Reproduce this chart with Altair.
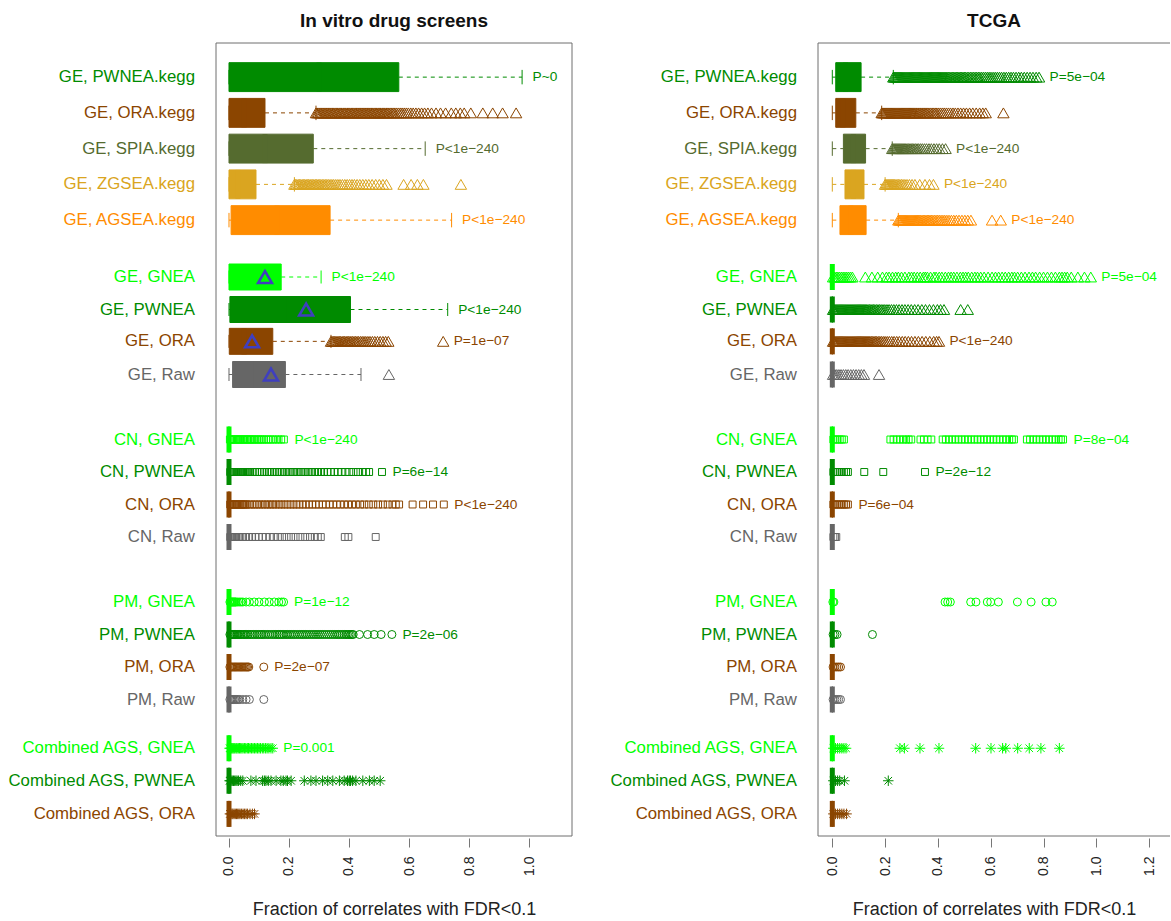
import altair as alt
import pandas as pd

# ---- rows (top to bottom) ----
ROWS = ["GE, PWNEA.kegg", "GE, ORA.kegg", "GE, SPIA.kegg", "GE, ZGSEA.kegg", "GE, AGSEA.kegg",
        "GE, GNEA", "GE, PWNEA", "GE, ORA", "GE, Raw",
        "CN, GNEA", "CN, PWNEA", "CN, ORA", "CN, Raw",
        "PM, GNEA", "PM, PWNEA", "PM, ORA", "PM, Raw",
        "Combined AGS, GNEA", "Combined AGS, PWNEA", "Combined AGS, ORA"]

# vertical slot of each row and half height of its box (in slot units)
ROW_POS = [1.05, 2.15, 3.25, 4.35, 5.45,
           7.2, 8.2, 9.18, 10.2,
           12.2, 13.2, 14.2, 15.2,
           17.2, 18.2, 19.2, 20.2,
           21.7, 22.7, 23.72]
BOX_HALF = [0.445] * 5 + [0.4] * 15
Y_DOMAIN = [0, 24.4]

METHOD_COLORS = {"PWNEA": "#008B00", "ORA": "#8B4500", "SPIA": "#556B2F",
                 "ZGSEA": "#DAA520", "AGSEA": "#FF8C00", "GNEA": "#00FF00",
                 "Raw": "#666666"}
ASTERISK = "M-1,0L1,0M0,-1L0,1M-0.72,-0.72L0.72,0.72M-0.72,0.72L0.72,-0.72"
TYPE_SHAPES = {"GE": ("triangle-up", 130), "CN": ("square", 48),
               "PM": ("circle", 64), "Combined AGS": (ASTERISK, 110)}

# ---- In vitro drug screens: box statistics ----
VITRO_LO = [0.0] * 20
VITRO_Q1 = [0.0, 0.0, 0.0, 0.0, 0.007, 0.0, 0.003, 0.001, 0.012] + [0.0] * 11
VITRO_MED = [0.30, 0.05, 0.12, 0.03, 0.16, 0.08, 0.20, 0.05, 0.09] + [0.0] * 11
VITRO_Q3 = [0.566, 0.120, 0.281, 0.090, 0.337, 0.174, 0.405, 0.146, 0.188] + [0.0] * 11
VITRO_HI = [0.977, 0.290, 0.654, 0.218, 0.742, 0.307, 0.729, 0.340, 0.440] + [0.0] * 11
VITRO_MEAN = {"GE, GNEA": 0.12, "GE, PWNEA": 0.257, "GE, ORA": 0.077, "GE, Raw": 0.14}
VITRO_P = ["P~0", "", "P<1e\u2212240", "", "P<1e\u2212240",
           "P<1e\u2212240", "P<1e\u2212240", "P=1e\u221207", "",
           "P<1e\u2212240", "P=6e\u221214", "P<1e\u2212240", "",
           "P=1e\u221212", "P=2e\u221206", "P=2e\u221207", "",
           "P=0.001", "", ""]
VITRO_OUT = {
    "GE, ORA.kegg": [0.290, 0.294, 0.298, 0.303, 0.307, 0.311, 0.316, 0.320, 0.324, 0.329, 0.333,
                     0.337, 0.342, 0.346, 0.350, 0.355, 0.359, 0.363, 0.368, 0.372, 0.376, 0.381,
                     0.385, 0.389, 0.394, 0.398, 0.402, 0.407, 0.411, 0.415, 0.420, 0.424, 0.428,
                     0.433, 0.437, 0.441, 0.446, 0.450, 0.454, 0.459, 0.463, 0.467, 0.472, 0.476,
                     0.480, 0.485, 0.489, 0.493, 0.498, 0.502, 0.506, 0.511, 0.515, 0.519, 0.524,
                     0.528, 0.533, 0.538, 0.543, 0.548, 0.553, 0.559, 0.565, 0.571, 0.577, 0.584,
                     0.591, 0.598, 0.606, 0.614, 0.623, 0.632, 0.642, 0.652, 0.663, 0.675, 0.690,
                     0.705, 0.722, 0.741, 0.756, 0.771, 0.784, 0.806, 0.846, 0.879, 0.912, 0.957],
    "GE, ZGSEA.kegg": [0.218, 0.222, 0.226, 0.231, 0.235, 0.239, 0.244, 0.248, 0.252, 0.257, 0.261,
                       0.265, 0.270, 0.274, 0.279, 0.283, 0.288, 0.292, 0.297, 0.301, 0.306, 0.311,
                       0.316, 0.321, 0.326, 0.331, 0.337, 0.343, 0.349, 0.356, 0.363, 0.370, 0.378,
                       0.386, 0.394, 0.402, 0.410, 0.418, 0.427, 0.436, 0.446, 0.456, 0.466, 0.477,
                       0.489, 0.501, 0.513, 0.525, 0.582, 0.607, 0.628, 0.648, 0.773],
    "GE, ORA": [0.340, 0.344, 0.348, 0.352, 0.356, 0.360, 0.364, 0.368, 0.372, 0.377, 0.381, 0.385,
                0.390, 0.394, 0.398, 0.403, 0.407, 0.412, 0.417, 0.422, 0.427, 0.432, 0.438, 0.444,
                0.450, 0.456, 0.463, 0.470, 0.478, 0.486, 0.495, 0.504, 0.513, 0.522, 0.531, 0.714],
    "GE, Raw": [0.533],
    "CN, GNEA": [0.003, 0.007, 0.010, 0.014, 0.018, 0.022, 0.026, 0.030, 0.034, 0.038, 0.042, 0.047,
                 0.051, 0.055, 0.060, 0.064, 0.069, 0.073, 0.078, 0.083, 0.088, 0.094, 0.099, 0.105,
                 0.111, 0.117, 0.124, 0.131, 0.139, 0.147, 0.156, 0.165, 0.174, 0.183],
    "CN, PWNEA": [0.004, 0.008, 0.011, 0.015, 0.018, 0.022, 0.025, 0.029, 0.032, 0.036, 0.040, 0.044,
                  0.047, 0.051, 0.055, 0.059, 0.062, 0.066, 0.070, 0.078, 0.086, 0.094, 0.102, 0.110,
                  0.118, 0.127, 0.135, 0.143, 0.152, 0.160, 0.169, 0.177, 0.186, 0.195, 0.204, 0.213,
                  0.222, 0.231, 0.240, 0.249, 0.258, 0.268, 0.277, 0.287, 0.297, 0.307, 0.317, 0.328,
                  0.339, 0.351, 0.363, 0.375, 0.388, 0.401, 0.415, 0.430, 0.446, 0.457, 0.467, 0.510],
    "CN, ORA": [0.004, 0.008, 0.011, 0.015, 0.019, 0.023, 0.027, 0.031, 0.035, 0.039, 0.043, 0.047,
                0.051, 0.055, 0.059, 0.068, 0.076, 0.085, 0.093, 0.102, 0.111, 0.120, 0.129, 0.138,
                0.147, 0.156, 0.166, 0.175, 0.185, 0.195, 0.205, 0.215, 0.225, 0.235, 0.246, 0.256,
                0.267, 0.278, 0.289, 0.300, 0.312, 0.323, 0.335, 0.347, 0.359, 0.371, 0.384, 0.397,
                0.410, 0.423, 0.437, 0.451, 0.466, 0.481, 0.497, 0.513, 0.529, 0.545, 0.556, 0.567,
                0.612, 0.647, 0.680, 0.716],
    "CN, Raw": [0.004, 0.008, 0.012, 0.016, 0.020, 0.024, 0.029, 0.033, 0.038, 0.047, 0.057, 0.067,
                0.077, 0.088, 0.099, 0.111, 0.123, 0.136, 0.149, 0.163, 0.177, 0.192, 0.207, 0.222,
                0.238, 0.254, 0.270, 0.286, 0.296, 0.306, 0.386, 0.398, 0.489],
    "PM, GNEA": [0.003, 0.006, 0.008, 0.011, 0.013, 0.016, 0.018, 0.021, 0.023, 0.028, 0.034, 0.040,
                 0.046, 0.057, 0.068, 0.084, 0.100, 0.118, 0.134, 0.151, 0.166, 0.175, 0.182],
    "PM, PWNEA": [0.003, 0.006, 0.009, 0.012, 0.015, 0.018, 0.021, 0.025, 0.028, 0.032, 0.036, 0.040,
                  0.045, 0.050, 0.054, 0.059, 0.064, 0.070, 0.075, 0.081, 0.087, 0.093, 0.099, 0.105,
                  0.110, 0.116, 0.122, 0.129, 0.135, 0.142, 0.148, 0.154, 0.160, 0.166, 0.171, 0.177,
                  0.183, 0.190, 0.196, 0.203, 0.209, 0.216, 0.222, 0.229, 0.236, 0.243, 0.249, 0.256,
                  0.262, 0.269, 0.276, 0.283, 0.290, 0.297, 0.304, 0.311, 0.318, 0.325, 0.332, 0.339,
                  0.346, 0.353, 0.360, 0.366, 0.372, 0.378, 0.384, 0.390, 0.395, 0.400, 0.405, 0.410,
                  0.414, 0.435, 0.462, 0.484, 0.507, 0.543],
    "PM, ORA": [0.003, 0.007, 0.010, 0.014, 0.018, 0.022, 0.026, 0.030, 0.034, 0.038, 0.042, 0.046,
                0.050, 0.054, 0.058, 0.062, 0.066, 0.116],
    "PM, Raw": [0.003, 0.007, 0.010, 0.014, 0.018, 0.022, 0.026, 0.031, 0.036, 0.046, 0.057, 0.068,
                0.116],
    "Combined AGS, GNEA": [0.002, 0.005, 0.008, 0.011, 0.014, 0.017, 0.020, 0.024, 0.027, 0.031,
                           0.035, 0.039, 0.043, 0.047, 0.052, 0.056, 0.061, 0.065, 0.070, 0.075,
                           0.080, 0.085, 0.090, 0.095, 0.100, 0.105, 0.111, 0.116, 0.122, 0.127,
                           0.133, 0.140, 0.146],
    "Combined AGS, PWNEA": [0.002, 0.005, 0.007, 0.011, 0.015, 0.019, 0.023, 0.027, 0.032, 0.039,
                            0.046, 0.073, 0.090, 0.112, 0.118, 0.123, 0.131, 0.140, 0.157, 0.173,
                            0.181, 0.190, 0.195, 0.207, 0.251, 0.273, 0.290, 0.312, 0.329, 0.346,
                            0.368, 0.384, 0.395, 0.401, 0.405, 0.412, 0.423, 0.446, 0.468, 0.484,
                            0.504],
    "Combined AGS, ORA": [0.003, 0.006, 0.010, 0.013, 0.017, 0.021, 0.025, 0.029, 0.033, 0.037,
                          0.042, 0.047, 0.052, 0.057, 0.062, 0.070, 0.078, 0.085],
}

# ---- TCGA: box statistics ----
TCGA_LO = [0.0] * 20
TCGA_Q1 = [0.013, 0.013, 0.042, 0.048, 0.029] + [0.0] * 15
TCGA_MED = [0.05, 0.04, 0.08, 0.08, 0.07] + [0.0] * 15
TCGA_Q3 = [0.109, 0.089, 0.126, 0.120, 0.128] + [0.0] * 15
TCGA_HI = [0.231, 0.187, 0.227, 0.200, 0.250] + [0.0] * 15
TCGA_P = ["P=5e\u221204", "", "P<1e\u2212240", "P<1e\u2212240", "P<1e\u2212240",
          "P=5e\u221204", "", "P<1e\u2212240", "",
          "P=8e\u221204", "P=2e\u221212", "P=6e\u221204", "",
          "", "", "", "",
          "", "", ""]
TCGA_OUT = {
    "GE, PWNEA.kegg": [0.231, 0.235, 0.239, 0.243, 0.247, 0.251, 0.255, 0.259, 0.263, 0.267, 0.271,
                       0.275, 0.279, 0.283, 0.287, 0.291, 0.295, 0.299, 0.303, 0.307, 0.311, 0.315,
                       0.319, 0.323, 0.327, 0.331, 0.335, 0.339, 0.343, 0.347, 0.351, 0.355, 0.359,
                       0.363, 0.367, 0.371, 0.375, 0.379, 0.383, 0.387, 0.391, 0.395, 0.399, 0.403,
                       0.407, 0.411, 0.415, 0.419, 0.423, 0.427, 0.431, 0.435, 0.440, 0.445, 0.450,
                       0.455, 0.460, 0.465, 0.470, 0.475, 0.480, 0.485, 0.490, 0.495, 0.500, 0.505,
                       0.511, 0.517, 0.523, 0.529, 0.535, 0.541, 0.547, 0.553, 0.559, 0.566, 0.573,
                       0.580, 0.587, 0.594, 0.601, 0.609, 0.617, 0.625, 0.633, 0.641, 0.650, 0.659,
                       0.668, 0.677, 0.686, 0.696, 0.706, 0.716, 0.727, 0.738, 0.749, 0.760, 0.772,
                       0.783],
    "GE, ORA.kegg": [0.187, 0.191, 0.195, 0.199, 0.203, 0.207, 0.211, 0.215, 0.219, 0.223, 0.227,
                     0.231, 0.235, 0.239, 0.243, 0.247, 0.251, 0.255, 0.259, 0.263, 0.267, 0.271,
                     0.275, 0.279, 0.283, 0.287, 0.291, 0.295, 0.299, 0.303, 0.307, 0.311, 0.315,
                     0.320, 0.325, 0.330, 0.335, 0.340, 0.345, 0.350, 0.355, 0.360, 0.366, 0.372,
                     0.378, 0.384, 0.390, 0.396, 0.403, 0.410, 0.417, 0.424, 0.432, 0.440, 0.448,
                     0.457, 0.466, 0.476, 0.486, 0.497, 0.508, 0.520, 0.532, 0.545, 0.558, 0.570,
                     0.581, 0.648],
    "GE, SPIA.kegg": [0.227, 0.231, 0.235, 0.239, 0.243, 0.247, 0.251, 0.255, 0.259, 0.263, 0.267,
                      0.271, 0.275, 0.279, 0.284, 0.289, 0.294, 0.299, 0.304, 0.309, 0.315, 0.321,
                      0.327, 0.334, 0.341, 0.349, 0.357, 0.366, 0.375, 0.385, 0.395, 0.405, 0.417,
                      0.429],
    "GE, ZGSEA.kegg": [0.200, 0.204, 0.208, 0.212, 0.216, 0.220, 0.224, 0.228, 0.232, 0.236, 0.241,
                       0.246, 0.251, 0.256, 0.262, 0.268, 0.275, 0.283, 0.292, 0.302, 0.313, 0.331,
                       0.351, 0.368, 0.383],
    "GE, AGSEA.kegg": [0.250, 0.254, 0.258, 0.262, 0.266, 0.270, 0.274, 0.278, 0.282, 0.286, 0.290,
                       0.294, 0.298, 0.302, 0.306, 0.310, 0.314, 0.318, 0.322, 0.326, 0.330, 0.335,
                       0.340, 0.345, 0.350, 0.355, 0.360, 0.365, 0.370, 0.375, 0.381, 0.387, 0.393,
                       0.399, 0.405, 0.412, 0.419, 0.426, 0.434, 0.442, 0.451, 0.460, 0.470, 0.480,
                       0.491, 0.502, 0.513, 0.525, 0.605, 0.638],
    "GE, GNEA": [0.003, 0.009, 0.015, 0.021, 0.027, 0.034, 0.041, 0.048, 0.055, 0.062, 0.069, 0.076,
                 0.125, 0.150, 0.172, 0.190, 0.205, 0.215, 0.228, 0.240, 0.250, 0.262, 0.275, 0.290,
                 0.300, 0.310, 0.322, 0.333, 0.345, 0.352, 0.360, 0.372, 0.385, 0.393, 0.405, 0.415,
                 0.428, 0.440, 0.450, 0.460, 0.472, 0.485, 0.495, 0.505, 0.515, 0.528, 0.540, 0.550,
                 0.562, 0.575, 0.590, 0.605, 0.618, 0.630, 0.643, 0.655, 0.668, 0.680, 0.690, 0.702,
                 0.716, 0.730, 0.745, 0.758, 0.770, 0.785, 0.800, 0.815, 0.830, 0.845, 0.860, 0.870,
                 0.880, 0.890, 0.905, 0.930, 0.955, 0.979],
    "GE, PWNEA": [0.003, 0.007, 0.011, 0.015, 0.019, 0.023, 0.027, 0.031, 0.035, 0.039, 0.043, 0.047,
                  0.051, 0.055, 0.059, 0.063, 0.067, 0.071, 0.075, 0.079, 0.083, 0.087, 0.091, 0.095,
                  0.099, 0.103, 0.107, 0.111, 0.115, 0.119, 0.123, 0.127, 0.131, 0.136, 0.141, 0.146,
                  0.151, 0.156, 0.161, 0.167, 0.173, 0.179, 0.185, 0.192, 0.199, 0.207, 0.215, 0.224,
                  0.233, 0.243, 0.253, 0.264, 0.275, 0.287, 0.299, 0.312, 0.325, 0.339, 0.353, 0.368,
                  0.383, 0.398, 0.410, 0.423, 0.486, 0.513],
    "GE, ORA": [0.003, 0.007, 0.011, 0.015, 0.019, 0.023, 0.027, 0.031, 0.035, 0.039, 0.043, 0.047,
                0.051, 0.055, 0.059, 0.063, 0.067, 0.071, 0.075, 0.079, 0.083, 0.087, 0.091, 0.095,
                0.099, 0.103, 0.107, 0.111, 0.115, 0.119, 0.123, 0.127, 0.131, 0.135, 0.139, 0.143,
                0.148, 0.153, 0.158, 0.163, 0.168, 0.174, 0.180, 0.186, 0.193, 0.200, 0.208, 0.216,
                0.225, 0.234, 0.244, 0.254, 0.265, 0.276, 0.288, 0.300, 0.313, 0.326, 0.340, 0.354,
                0.369, 0.384, 0.395, 0.404],
    "GE, Raw": [0.003, 0.010, 0.017, 0.025, 0.033, 0.042, 0.051, 0.060, 0.070, 0.080, 0.090, 0.100,
                0.110, 0.120, 0.177],
    "CN, GNEA": [0.004, 0.012, 0.020, 0.028, 0.036, 0.044, 0.220, 0.232, 0.244, 0.256, 0.268, 0.279,
                 0.289, 0.299, 0.334, 0.347, 0.361, 0.375, 0.418, 0.430, 0.442, 0.454, 0.466, 0.478,
                 0.490, 0.502, 0.514, 0.526, 0.538, 0.550, 0.562, 0.574, 0.586, 0.598, 0.610, 0.622,
                 0.634, 0.646, 0.658, 0.670, 0.680, 0.688, 0.737, 0.749, 0.761, 0.773, 0.785, 0.797,
                 0.809, 0.821, 0.833, 0.845, 0.857, 0.866, 0.874],
    "CN, PWNEA": [0.004, 0.012, 0.020, 0.028, 0.036, 0.044, 0.052, 0.059, 0.121, 0.193, 0.351],
    "CN, ORA": [0.004, 0.010, 0.017, 0.024, 0.031, 0.038, 0.045, 0.052, 0.059],
    "CN, Raw": [0.004, 0.010, 0.015],
    "PM, GNEA": [0.002, 0.006, 0.427, 0.437, 0.447, 0.524, 0.544, 0.587, 0.600, 0.629, 0.701,
                 0.753, 0.809, 0.833],
    "PM, PWNEA": [0.003, 0.010, 0.018, 0.152],
    "PM, ORA": [0.003, 0.010, 0.017, 0.024, 0.031],
    "PM, Raw": [0.003, 0.010, 0.017, 0.024, 0.031],
    "Combined AGS, GNEA": [0.004, 0.012, 0.020, 0.028, 0.036, 0.044, 0.052, 0.256, 0.273, 0.332,
                           0.404, 0.543, 0.601, 0.645, 0.657, 0.702, 0.746, 0.790, 0.860],
    "Combined AGS, PWNEA": [0.004, 0.012, 0.020, 0.028, 0.046, 0.212],
    "Combined AGS, ORA": [0.004, 0.012, 0.020, 0.028, 0.036, 0.044, 0.054],
}

VITRO_X = [-0.0433, 1.1433]
TCGA_X = [-0.0542, 1.279]
VITRO_TICKS = [0.0, 0.2, 0.4, 0.6, 0.8, 1.0]
TCGA_TICKS = [0.0, 0.2, 0.4, 0.6, 0.8, 1.0, 1.2]

PLOT_H = 793
FRAME = "#6e6e6e"
MEAN_COLOR = "#3F3FBF"
FONT = "Liberation Sans"


def row_color(name):
    return METHOD_COLORS[name.split(", ")[1].split(".")[0]]


def row_type(name):
    return name.split(",")[0]


def panel(title, lo, q1, med, q3, hi, outliers, pvals, means, xdom, ticks, width, right_edge):
    yscale = alt.Scale(domain=Y_DOMAIN, reverse=True, nice=False, zero=False)
    xscale = alt.Scale(domain=xdom, nice=False, zero=False)
    axis = alt.Axis(values=ticks, format=".1f", labelAngle=-90, domain=False, grid=False,
                    tickSize=9, tickColor="#777777", tickWidth=1, offset=2,
                    labelPadding=9, labelFontSize=14, labelColor="#222222", labelFont=FONT,
                    title="Fraction of correlates with FDR<0.1", titleFontSize=18,
                    titleFontWeight="normal", titleColor="#222222", titleFont=FONT,
                    titlePadding=25)

    def X(field):
        return alt.X(f"{field}:Q", scale=xscale, axis=axis)

    def Y(field):
        return alt.Y(f"{field}:Q", scale=yscale, axis=None)

    color_id = alt.Color("color:N", scale=None)

    rows = []
    for i, name in enumerate(ROWS):
        pts = outliers.get(name, [])
        rows.append({
            "row": name, "pos": ROW_POS[i], "color": row_color(name),
            "ya": ROW_POS[i] - BOX_HALF[i], "yb": ROW_POS[i] + BOX_HALF[i],
            "ca": ROW_POS[i] - BOX_HALF[i] / 2, "cb": ROW_POS[i] + BOX_HALF[i] / 2,
            "lo": lo[i], "q1": q1[i], "med": med[i], "q3": q3[i], "hi": hi[i],
            "xmax": max([hi[i]] + pts), "p": pvals[i],
        })
    box_df = pd.DataFrame(rows)

    whisk = []
    caps = []
    for r in rows:
        if r["q1"] > r["lo"]:
            whisk.append({"x": r["lo"], "x2": r["q1"], "pos": r["pos"], "color": r["color"]})
        if r["hi"] > r["q3"]:
            whisk.append({"x": r["q3"], "x2": r["hi"], "pos": r["pos"], "color": r["color"]})
        for v in (r["lo"], r["hi"]):
            caps.append({"x": v, "ca": r["ca"], "cb": r["cb"], "color": r["color"]})
    whisk_df = pd.DataFrame(whisk)
    caps_df = pd.DataFrame(caps)

    pts = []
    for i, name in enumerate(ROWS):
        shape, size = TYPE_SHAPES[row_type(name)]
        for v in outliers.get(name, []):
            pts.append({"v": v, "pos": ROW_POS[i], "color": row_color(name),
                        "shape": shape, "size": size})
    pts_df = pd.DataFrame(pts)

    layers = [
        alt.Chart(whisk_df).mark_rule(strokeDash=[4, 4], strokeWidth=1).encode(
            x=X("x"), x2="x2", y=Y("pos"), color=color_id),
        alt.Chart(caps_df).mark_rule(strokeWidth=1).encode(
            x=X("x"), y=Y("ca"), y2="cb", color=color_id),
        alt.Chart(box_df).mark_rect(strokeWidth=1).encode(
            x=X("q1"), x2="q3", y=Y("ya"), y2="yb", color=color_id,
            stroke=alt.Stroke("color:N", scale=None)),
        alt.Chart(box_df).mark_rule(strokeWidth=5).encode(
            x=X("med"), y=Y("ya"), y2="yb", color=color_id),
        alt.Chart(pts_df).mark_point(filled=False, strokeWidth=1, opacity=1).encode(
            x=X("v"), y=Y("pos"), color=color_id,
            shape=alt.Shape("shape:N", scale=None),
            size=alt.Size("size:Q", scale=None)),
    ]
    if means:
        mean_df = pd.DataFrame([{"v": v, "pos": ROW_POS[ROWS.index(k)]} for k, v in means.items()])
        layers.append(alt.Chart(mean_df).mark_point(
            shape="triangle-up", filled=False, strokeWidth=2.6, size=190,
            color=MEAN_COLOR, opacity=1).encode(x=X("v"), y=Y("pos")))
    p_df = box_df[box_df["p"] != ""]
    layers.append(alt.Chart(p_df).mark_text(
        align="left", baseline="middle", dx=10.5, fontSize=13.7, font=FONT).encode(
            x=X("xmax"), y=Y("pos"), text="p:N", color=color_id))
    layers.append(alt.Chart(box_df).mark_text(
        align="right", baseline="middle", fontSize=16.8, font=FONT).encode(
            x=alt.value(-21), y=Y("pos"), text="row:N", color=color_id))

    one = pd.DataFrame({"k": [0]})
    frame = [
        alt.Chart(one).mark_rule(color=FRAME, strokeWidth=1).encode(
            x=alt.value(0), x2=alt.value(width), y=alt.value(0)),
        alt.Chart(one).mark_rule(color=FRAME, strokeWidth=1).encode(
            x=alt.value(0), x2=alt.value(width), y=alt.value(PLOT_H)),
        alt.Chart(one).mark_rule(color=FRAME, strokeWidth=1).encode(
            x=alt.value(0), y=alt.value(0), y2=alt.value(PLOT_H)),
    ]
    if right_edge:
        frame.append(alt.Chart(one).mark_rule(color=FRAME, strokeWidth=1).encode(
            x=alt.value(width), y=alt.value(0), y2=alt.value(PLOT_H)))

    return alt.layer(*layers, *frame).properties(
        width=width, height=PLOT_H,
        title=alt.TitleParams(title, fontSize=19, fontWeight="bold", anchor="middle",
                              offset=12, color="#111111", font=FONT))


left = panel("In vitro drug screens", VITRO_LO, VITRO_Q1, VITRO_MED, VITRO_Q3, VITRO_HI,
             VITRO_OUT, VITRO_P, VITRO_MEAN, VITRO_X, VITRO_TICKS, 356, True)
right = panel("TCGA", TCGA_LO, TCGA_Q1, TCGA_MED, TCGA_Q3, TCGA_HI,
              TCGA_OUT, TCGA_P, None, TCGA_X, TCGA_TICKS, 352, False)

chart = alt.hconcat(left, right, spacing=246, bounds="flush").properties(
    padding={"left": 7, "top": 11, "right": 0, "bottom": 0},
    background="white",
).configure(font=FONT).configure_view(strokeOpacity=0)

chart.save("out.html", embed_options={"renderer": "svg", "actions": False})
